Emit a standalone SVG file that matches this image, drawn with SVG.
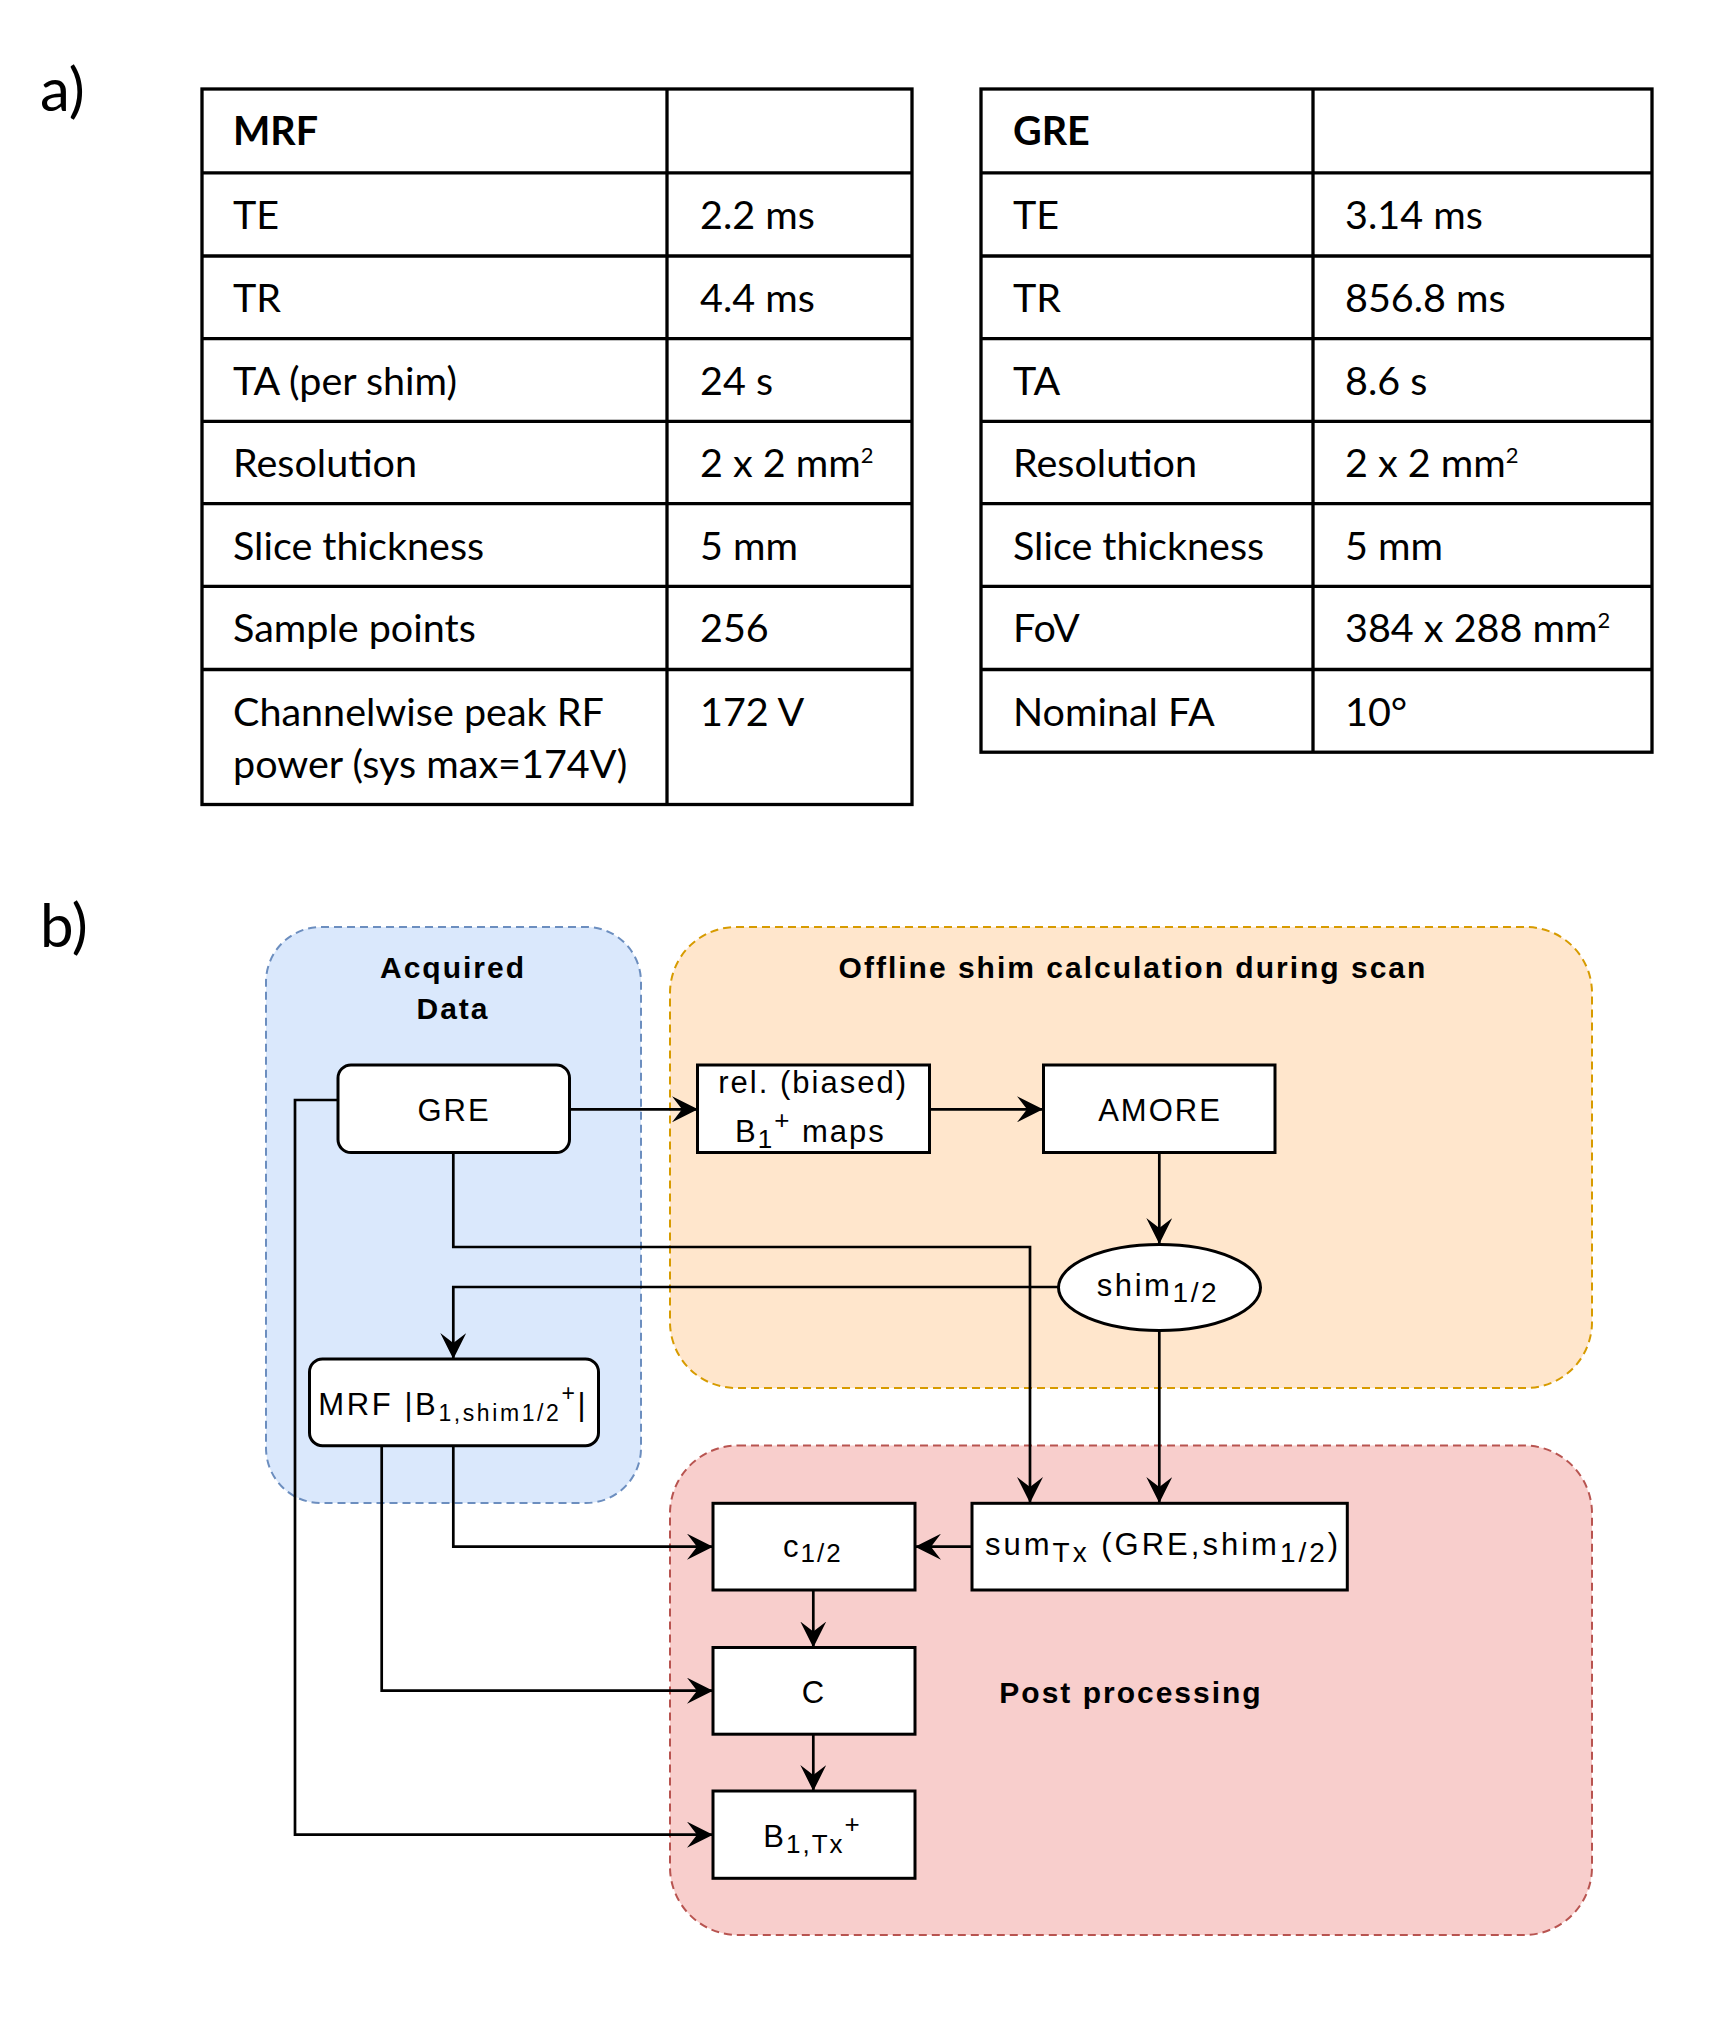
<svg xmlns="http://www.w3.org/2000/svg" width="1736" height="2017" viewBox="0 0 1736 2017">
<style>
.tb{fill:none;stroke:#000;stroke-width:3.3}
.tt{font-family:Lato,"Liberation Sans",sans-serif;font-size:39.5px;fill:#000}
.tth{font-family:Lato,"Liberation Sans",sans-serif;font-size:39.5px;font-weight:bold;fill:#000}
.sup{font-size:22px}
.lbl{font-family:Lato,"Liberation Sans",sans-serif;font-size:60px;fill:#000}
.grp{stroke-width:2;stroke-dasharray:8 5}
.node{fill:#fff;stroke:#000;stroke-width:3}
.nt{font-family:"Liberation Sans",Arial,sans-serif;font-size:31px;letter-spacing:2px;fill:#000}
.gt{font-family:"Liberation Sans",Arial,sans-serif;font-size:30px;font-weight:bold;letter-spacing:2px;fill:#000}
.sb{font-size:26px}
.con{fill:none;stroke:#000;stroke-width:2.7}
</style>
<defs>
<marker id="arr" markerUnits="userSpaceOnUse" viewBox="0 0 26 26" refX="26" refY="13" markerWidth="26" markerHeight="26" orient="auto">
<path d="M0,0 L26,13 L0,26 L10,13 Z" fill="#000"/>
</marker>
</defs>
<rect width="1736" height="2017" fill="#fff"/>

<!-- Part a -->
<text class="lbl" x="40" y="111">a)</text>

<g id="table-mrf">
<rect class="tb" x="202" y="89" width="710" height="715.5"/>
<line class="tb" x1="667" y1="89" x2="667" y2="804.5"/>
<line class="tb" x1="202" y1="172.8" x2="912" y2="172.8"/>
<line class="tb" x1="202" y1="256" x2="912" y2="256"/>
<line class="tb" x1="202" y1="338.7" x2="912" y2="338.7"/>
<line class="tb" x1="202" y1="421.4" x2="912" y2="421.4"/>
<line class="tb" x1="202" y1="503.6" x2="912" y2="503.6"/>
<line class="tb" x1="202" y1="586.3" x2="912" y2="586.3"/>
<line class="tb" x1="202" y1="669.5" x2="912" y2="669.5"/>
<text class="tth" x="233" y="145">MRF</text>
<text class="tt" x="233" y="228.8">TE</text>
<text class="tt" x="700" y="228.8">2.2 ms</text>
<text class="tt" x="233" y="312">TR</text>
<text class="tt" x="700" y="312">4.4 ms</text>
<text class="tt" x="233" y="394.7">TA (per shim)</text>
<text class="tt" x="700" y="394.7">24 s</text>
<text class="tt" x="233" y="477.4">Resolution</text>
<text class="tt" x="700" y="477.4">2 x 2 mm<tspan class="sup" dy="-14">2</tspan></text>
<text class="tt" x="233" y="559.6">Slice thickness</text>
<text class="tt" x="700" y="559.6">5 mm</text>
<text class="tt" x="233" y="642.3">Sample points</text>
<text class="tt" x="700" y="642.3">256</text>
<text class="tt" x="233" y="725.5">Channelwise peak RF</text>
<text class="tt" x="233" y="778">power (sys max=174V)</text>
<text class="tt" x="700" y="725.5">172 V</text>
</g>

<g id="table-gre">
<rect class="tb" x="981" y="89" width="671" height="663.2"/>
<line class="tb" x1="1313" y1="89" x2="1313" y2="752.2"/>
<line class="tb" x1="981" y1="172.8" x2="1652" y2="172.8"/>
<line class="tb" x1="981" y1="256" x2="1652" y2="256"/>
<line class="tb" x1="981" y1="338.7" x2="1652" y2="338.7"/>
<line class="tb" x1="981" y1="421.4" x2="1652" y2="421.4"/>
<line class="tb" x1="981" y1="503.6" x2="1652" y2="503.6"/>
<line class="tb" x1="981" y1="586.3" x2="1652" y2="586.3"/>
<line class="tb" x1="981" y1="669.5" x2="1652" y2="669.5"/>
<text class="tth" x="1013" y="145">GRE</text>
<text class="tt" x="1013" y="228.8">TE</text>
<text class="tt" x="1345" y="228.8">3.14 ms</text>
<text class="tt" x="1013" y="312">TR</text>
<text class="tt" x="1345" y="312">856.8 ms</text>
<text class="tt" x="1013" y="394.7">TA</text>
<text class="tt" x="1345" y="394.7">8.6 s</text>
<text class="tt" x="1013" y="477.4">Resolution</text>
<text class="tt" x="1345" y="477.4">2 x 2 mm<tspan class="sup" dy="-14">2</tspan></text>
<text class="tt" x="1013" y="559.6">Slice thickness</text>
<text class="tt" x="1345" y="559.6">5 mm</text>
<text class="tt" x="1013" y="642.3">FoV</text>
<text class="tt" x="1345" y="642.3">384 x 288 mm<tspan class="sup" dy="-14">2</tspan></text>
<text class="tt" x="1013" y="725.5">Nominal FA</text>
<text class="tt" x="1345" y="725.5">10°</text>
</g>

<!-- Part b -->
<text class="lbl" x="40" y="947">b)</text>

<g id="group-acquired">
<rect class="grp" x="266" y="927" width="375" height="576" rx="55" ry="55" fill="#dae8fc" stroke="#6c8ebf"/>
<text class="gt" x="453" y="978.3" text-anchor="middle">Acquired</text>
<text class="gt" x="453" y="1019.3" text-anchor="middle">Data</text>
</g>
<g id="group-offline">
<rect class="grp" x="670" y="927" width="922" height="461" rx="66" ry="66" fill="#ffe6cc" stroke="#d79b00"/>
<text class="gt" x="1133" y="978.3" text-anchor="middle">Offline shim calculation during scan</text>
</g>
<g id="group-post">
<rect class="grp" x="670" y="1445.5" width="922" height="489.5" rx="68" ry="68" fill="#f8cecc" stroke="#b85450"/>
<text class="gt" x="1131" y="1703" text-anchor="middle">Post processing</text>
</g>

<g id="connectors">
<line class="con" x1="569" y1="1109.3" x2="698" y2="1109.3" marker-end="url(#arr)"/>
<line class="con" x1="929" y1="1109.3" x2="1043" y2="1109.3" marker-end="url(#arr)"/>
<line class="con" x1="1159.3" y1="1153" x2="1159.3" y2="1244" marker-end="url(#arr)"/>
<polyline class="con" points="1058,1287 453.3,1287 453.3,1359" marker-end="url(#arr)"/>
<polyline class="con" points="453.3,1153 453.3,1247 1030,1247 1030,1503" marker-end="url(#arr)"/>
<line class="con" x1="1159.3" y1="1331" x2="1159.3" y2="1503" marker-end="url(#arr)"/>
<polyline class="con" points="453.3,1446 453.3,1546.7 713,1546.7" marker-end="url(#arr)"/>
<polyline class="con" points="381.7,1446 381.7,1690.7 713,1690.7" marker-end="url(#arr)"/>
<polyline class="con" points="338,1100 295,1100 295,1834.7 713,1834.7" marker-end="url(#arr)"/>
<line class="con" x1="972" y1="1546.7" x2="915" y2="1546.7" marker-end="url(#arr)"/>
<line class="con" x1="813.3" y1="1590" x2="813.3" y2="1647.5" marker-end="url(#arr)"/>
<line class="con" x1="813.3" y1="1734" x2="813.3" y2="1791" marker-end="url(#arr)"/>
</g>

<g id="node-gre">
<rect class="node" x="338" y="1065" width="231.5" height="87.5" rx="13" ry="13"/>
<text class="nt" x="454" y="1121" text-anchor="middle">GRE</text>
</g>
<g id="node-rel">
<rect class="node" x="697.5" y="1065" width="232" height="87.5"/>
<text class="nt" x="718.3" y="1093.3">rel. (biased)</text>
<text class="nt" x="735" y="1141.7">B<tspan class="sb" dy="6">1</tspan><tspan class="sb" dy="-19">+</tspan><tspan dy="13"> maps</tspan></text>
</g>
<g id="node-amore">
<rect class="node" x="1043.5" y="1065" width="231.5" height="87.5"/>
<text class="nt" x="1160" y="1121" text-anchor="middle">AMORE</text>
</g>
<g id="node-shim">
<ellipse class="node" cx="1159.5" cy="1287.5" rx="101" ry="43"/>
<text class="nt" x="1096.7" y="1295.7" style="letter-spacing:2.6px">shim<tspan font-size="28px" dy="6.6">1/2</tspan></text>
</g>
<g id="node-mrf">
<rect class="node" x="309.5" y="1359" width="289" height="86.7" rx="13" ry="13"/>
<text class="nt" x="318.3" y="1415" style="letter-spacing:2.6px">MRF |B<tspan font-size="23px" dy="6">1,shim1/2</tspan><tspan font-size="23px" dy="-20">+</tspan><tspan dy="14">|</tspan></text>
</g>
<g id="node-c12">
<rect class="node" x="713" y="1503.3" width="202" height="86.7"/>
<text class="nt" x="783" y="1556.7">c<tspan class="sb" dy="5.5">1/2</tspan></text>
</g>
<g id="node-sum">
<rect class="node" x="972" y="1503.3" width="375.3" height="86.7"/>
<text class="nt" x="985" y="1555" style="letter-spacing:3px">sum<tspan font-size="28px" dy="6.7">Tx</tspan><tspan dy="-6.7"> (GRE,shim</tspan><tspan font-size="28px" dy="6.7">1/2</tspan><tspan dy="-6.7">)</tspan></text>
</g>
<g id="node-C">
<rect class="node" x="713" y="1647.5" width="202" height="86.7"/>
<text class="nt" x="814" y="1702.7" text-anchor="middle">C</text>
</g>
<g id="node-b1tx">
<rect class="node" x="713" y="1791" width="202" height="87.3"/>
<text class="nt" x="763.3" y="1847.3">B<tspan class="sb" dy="6">1,Tx</tspan><tspan class="sb" dy="-20">+</tspan></text>
</g>
</svg>
